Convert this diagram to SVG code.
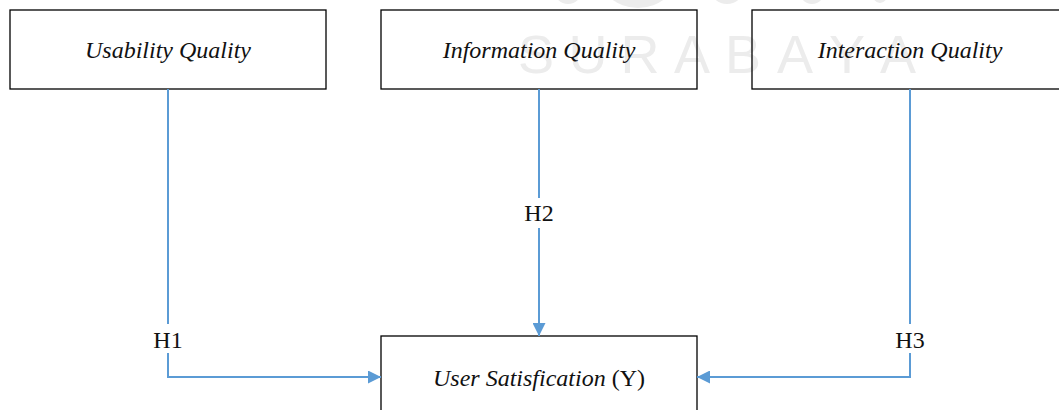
<svg xmlns="http://www.w3.org/2000/svg" width="1059" height="410" viewBox="0 0 1059 410">
<style>
.box{fill:none;stroke:#000;stroke-width:1.3}
.lbl{font-family:"Liberation Serif","Times New Roman",serif;font-size:24px;font-style:italic;fill:#111;text-anchor:middle}
.h{font-family:"Liberation Serif","Times New Roman",serif;font-size:24px;fill:#111;text-anchor:middle}
.con{fill:none;stroke:#5b9bd5;stroke-width:2}
.wm{font-family:"Liberation Sans",sans-serif;font-size:54px;fill:#ececec;text-anchor:middle}
.wl{fill:#ececec}
</style>
<defs>
<marker id="arr" viewBox="0 0 13 13" refX="13" refY="6.5" markerWidth="13" markerHeight="13" markerUnits="userSpaceOnUse" orient="auto">
<path d="M0,0 L13,6.5 L0,13 Z" fill="#5b9bd5"/>
</marker>
</defs>
<rect width="1059" height="410" fill="#fff"/>
<g id="watermark">
<ellipse class="wl" cx="638" cy="-28" rx="40" ry="36"/>
<ellipse class="wl" cx="568" cy="-10" rx="14" ry="14"/>
<ellipse class="wl" cx="727" cy="-10" rx="16" ry="14"/>
<ellipse class="wl" cx="812" cy="-10" rx="13" ry="14"/>
<ellipse class="wl" cx="880" cy="-10" rx="9" ry="13"/>
<text class="wm" x="536" y="73">S</text>
<text class="wm" x="588" y="73">U</text>
<text class="wm" x="640" y="73">R</text>
<text class="wm" x="692" y="73">A</text>
<text class="wm" x="743" y="73">B</text>
<text class="wm" x="795" y="73">A</text>
<text class="wm" x="847" y="73">Y</text>
<text class="wm" x="898" y="73">A</text>
</g>
<g id="n1"><rect class="box" x="10" y="10" width="316" height="79"/><text class="lbl" x="168" y="58">Usability Quality</text></g>
<g id="n2"><rect class="box" x="381" y="10" width="316" height="79"/><text class="lbl" x="539" y="58">Information Quality</text></g>
<g id="n3"><rect class="box" x="752" y="10" width="316" height="79"/><text class="lbl" x="910" y="58">Interaction Quality</text></g>
<g id="y"><rect class="box" x="381" y="336" width="316" height="90"/><text class="lbl" x="539" y="386">User Satisfication <tspan font-style="normal">(Y)</tspan></text></g>
<g id="connectors">
<path class="con" d="M168,89 V324"/>
<path class="con" d="M168,353 V377 H381" marker-end="url(#arr)"/>
<path class="con" d="M539,89 V198"/>
<path class="con" d="M539,228 V336" marker-end="url(#arr)"/>
<path class="con" d="M910,89 V324"/>
<path class="con" d="M910,353 V377 H697" marker-end="url(#arr)"/>
<text class="h" x="168" y="348">H1</text>
<text class="h" x="539" y="221">H2</text>
<text class="h" x="910" y="348">H3</text>
</g>
</svg>
